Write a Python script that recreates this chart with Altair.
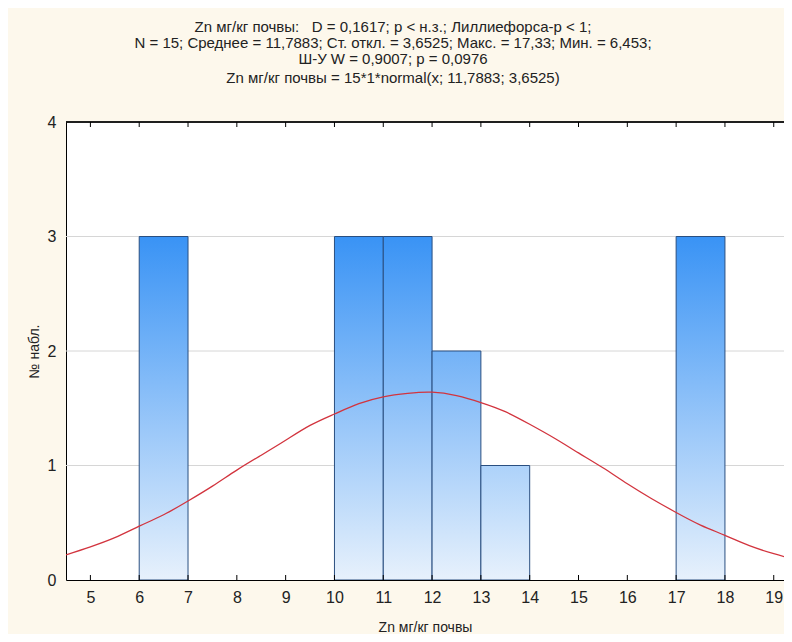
import altair as alt
import pandas as pd

# ---- data ----
bin_start = [6, 10, 11, 12, 13, 17]
bin_end = [7, 11, 12, 13, 14, 18]
counts = [3, 3, 3, 2, 1, 3]

curve_x = [4.5, 5, 5.5, 6, 6.5, 7, 7.5, 8, 8.5, 9, 9.5, 10, 10.5, 11, 11.5, 12,
           12.5, 13, 13.5, 14, 14.5, 15, 15.5, 16, 16.5, 17, 17.5, 18, 18.5, 19, 19.5]
curve_y = [0.22, 0.29, 0.37, 0.47, 0.57, 0.69, 0.82, 0.96, 1.09, 1.22, 1.35, 1.45,
           1.54, 1.60, 1.63, 1.64, 1.61, 1.55, 1.47, 1.36, 1.24, 1.11, 0.98, 0.84,
           0.71, 0.59, 0.48, 0.39, 0.30, 0.23, 0.17]

x_ticks = list(range(5, 20))
y_ticks = [0, 1, 2, 3, 4]
grid_y = [1, 2, 3]

title_lines = [
    "Zn мг/кг почвы:\u00a0\u00a0\u00a0D = 0,1617; p < н.з.; Лиллиефорса-p < 1;",
    "N = 15; Среднее = 11,7883; Ст. откл. = 3,6525; Макс. = 17,33; Мин. = 6,453;",
    "Ш-У W = 0,9007; p = 0,0976",
]
subtitle_line = "Zn мг/кг почвы = 15*1*normal(x; 11,7883; 3,6525)"
x_title = "Zn мг/кг почвы"
y_title = "№ набл."

# ---- layout / style ----
W, H = 718, 458
FONT = "Liberation Sans, Arial"
x_dom = [4.5, 19.21]
y_dom = [0, 4]
xs = alt.Scale(domain=x_dom, nice=False, zero=False)
ys = alt.Scale(domain=y_dom, nice=False, zero=True)

top_rgb = (57, 147, 245)
bot_rgb = (231, 241, 252)


def mix(t):
    c = [round(b + (a - b) * t) for a, b in zip(top_rgb, bot_rgb)]
    return "#%02x%02x%02x" % tuple(c)


bars_df = pd.DataFrame({"start": bin_start, "end": bin_end, "count": counts})
curve_df = pd.DataFrame({"x": curve_x, "y": curve_y})
grid_df = pd.DataFrame({"g": grid_y})
tick_df = pd.DataFrame({"t": x_ticks})

x_axis = alt.Axis(values=x_ticks, format="d", tickSize=0, labelPadding=9,
                  grid=False, domainColor="black", domainWidth=1,
                  labelFontSize=16, labelFont=FONT, labelColor="#222",
                  labelFlush=False, title=x_title, titleFont=FONT,
                  titleFontSize=14, titleFontWeight="normal", titleColor="#222",
                  titlePadding=15)
y_axis = alt.Axis(values=y_ticks, format="d", tickSize=0, labelPadding=10,
                  grid=False, domainColor="black", domainWidth=1,
                  labelFontSize=16, labelFont=FONT, labelColor="#222",
                  labelFlush=False, title=y_title, titleFont=FONT,
                  titleFontSize=14, titleFontWeight="normal", titleColor="#222",
                  titlePadding=6)

grid = alt.Chart(grid_df).mark_rule(color="#d6d6d6", strokeWidth=1).encode(
    y=alt.Y("g:Q", scale=ys, axis=y_axis),
    x=alt.value(0), x2=alt.value(W),
)

bar_layers = []
for c in sorted(set(counts), reverse=True):
    grad = alt.Gradient(
        gradient="linear", x1=0, x2=0, y1=0, y2=1,
        stops=[alt.GradientStop(color=mix(c / 3.0), offset=0),
               alt.GradientStop(color=mix(0), offset=1)],
    )
    layer = alt.Chart(bars_df).transform_filter(
        alt.datum["count"] == c
    ).mark_bar(color=grad, stroke="#2a4f80", strokeWidth=1, clip=True).encode(
        x=alt.X("start:Q", scale=xs, axis=x_axis),
        x2="end:Q",
        y=alt.Y("count:Q", scale=ys, axis=y_axis),
        y2=alt.datum(0),
    )
    bar_layers.append(layer)

curve = alt.Chart(curve_df).mark_line(color="#d2343e", strokeWidth=1.3,
                                      clip=True, interpolate="natural").encode(
    x=alt.X("x:Q", scale=xs, axis=x_axis),
    y=alt.Y("y:Q", scale=ys, axis=y_axis),
)

ticks_bottom = alt.Chart(tick_df).mark_rule(color="black", strokeWidth=1).encode(
    x=alt.X("t:Q", scale=xs, axis=x_axis),
    y=alt.value(H), y2=alt.value(H - 5),
)
ticks_top = alt.Chart(tick_df).mark_rule(color="black", strokeWidth=1).encode(
    x=alt.X("t:Q", scale=xs, axis=x_axis),
    y=alt.value(0), y2=alt.value(5),
)
top_border = alt.Chart(grid_df).mark_rule(color="black", strokeWidth=1).encode(
    x=alt.value(0), x2=alt.value(W), y=alt.value(0),
)

chart = alt.layer(grid, *bar_layers, curve, ticks_bottom, ticks_top, top_border).properties(
    width=W, height=H,
    title=alt.TitleParams(
        text=title_lines, subtitle=[subtitle_line], anchor="middle", frame="group",
        font=FONT, fontSize=15, fontWeight="normal", color="#222", lineHeight=16,
        subtitleFont=FONT, subtitleFontSize=15, subtitleColor="#222",
        subtitleLineHeight=16, subtitlePadding=4, offset=28, dx=-32,
    ),
    autosize=alt.AutoSizeParams(type="none"),
    padding={"left": 58, "top": 114, "right": 0, "bottom": 54},
).configure(background="#fdf8ec").configure_view(fill="white", stroke=None)

chart.save("out.html", embed_options={"renderer": "svg", "actions": False})
